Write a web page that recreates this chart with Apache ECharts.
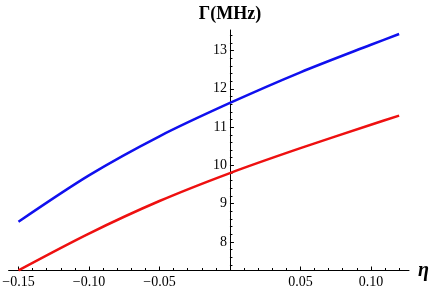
<!DOCTYPE html>
<html><head><meta charset="utf-8">
<script src="https://cdn.jsdelivr.net/npm/echarts@6/dist/echarts.min.js"></script>
<style>html,body{margin:0;padding:0;background:#fff}#c{width:432px;height:292px}</style>
</head><body><div id="c"></div>
<script>
const eta = [-0.15, -0.10, -0.05, 0, 0.05, 0.10, 0.12];
const gammaBlue = [8.53, 9.74, 10.76, 11.63, 12.43, 13.15, 13.43];
const gammaRed = [7.26, 8.22, 9.07, 9.80, 10.45, 11.06, 11.30];
const xMajorTicks = [-0.15, -0.10, -0.05, 0, 0.05, 0.10];
const xTickLabels = [-0.15, -0.10, -0.05, 0.05, 0.10];
const yTickLabels = [8, 9, 10, 11, 12, 13];

const xMinor = []; for (let i = -15; i <= 12; i++) if (i % 5 !== 0) xMinor.push(i / 100);
const yMinor = []; for (let i = 37; i <= 67; i++) if (i % 5 !== 0) yMinor.push(i / 5);

const font = 'Liberation Serif';
const xMin = -0.157, xMax = 0.127, yMin = 7.256, yMax = 13.535;
const gridLeft = 8.6, gridRight = 23;
const plotW = 432 - gridLeft - gridRight;
// y axis sits at eta = 0: shift it inward from the grid's left edge
const yOffset = -((0 - xMin) / (xMax - xMin)) * plotW;

const chart = echarts.init(document.getElementById('c'), null, {renderer: 'canvas'});
chart.setOption({
  animation: false,
  grid: {left: gridLeft, right: gridRight, top: 30, bottom: 21.5, containLabel: false, outerBoundsMode: 'none'},
  xAxis: [{
    type: 'value', min: xMin, max: xMax, position: 'bottom',
    axisLine: {onZero: false, lineStyle: {color: '#000', width: 1}},
    axisTick: {show: true, inside: true, length: 4, customValues: xMajorTicks, lineStyle: {color: '#000'}},
    axisLabel: {customValues: xTickLabels, margin: 5, color: '#000', fontFamily: font, fontSize: 14,
      formatter: v => v.toFixed(2).replace('-', '\u2212')},
    splitLine: {show: false},
    name: '\u03b7', nameLocation: 'end', nameGap: 9,
    nameTextStyle: {fontFamily: font, fontSize: 20, fontWeight: 'bold', fontStyle: 'italic', color: '#000', align: 'left', verticalAlign: 'middle', padding: [4, 0, 0, 0]}
  }, {
    type: 'value', min: xMin, max: xMax, position: 'bottom',
    axisLine: {show: false, onZero: false},
    axisTick: {show: true, inside: true, length: 2.5, customValues: xMinor, lineStyle: {color: '#000'}},
    axisLabel: {show: false}, splitLine: {show: false}
  }],
  yAxis: [{
    type: 'value', min: yMin, max: yMax, position: 'left', offset: yOffset,
    axisLine: {show: true, onZero: false, lineStyle: {color: '#000', width: 1}},
    axisTick: {show: true, inside: true, length: 4, customValues: yTickLabels, lineStyle: {color: '#000'}},
    axisLabel: {customValues: yTickLabels, margin: 3, color: '#000', fontFamily: font, fontSize: 14},
    splitLine: {show: false},
    name: '\u0393(MHz)', nameLocation: 'end', nameGap: 16,
    nameTextStyle: {fontFamily: font, fontSize: 18, fontWeight: 'bold', color: '#000', align: 'center', verticalAlign: 'middle'}
  }, {
    type: 'value', min: yMin, max: yMax, position: 'left', offset: yOffset,
    axisLine: {show: false, onZero: false},
    axisTick: {show: true, inside: true, length: 2.5, customValues: yMinor, lineStyle: {color: '#000'}},
    axisLabel: {show: false}, splitLine: {show: false}
  }],
  series: [{
    type: 'line', xAxisIndex: 0, yAxisIndex: 0, smooth: 0.3, showSymbol: false,
    lineStyle: {color: '#1010ee', width: 2.5}, itemStyle: {color: '#1010ee'},
    data: eta.map((x, i) => [x, gammaBlue[i]])
  }, {
    type: 'line', xAxisIndex: 0, yAxisIndex: 0, smooth: 0.3, showSymbol: false,
    lineStyle: {color: '#ee1010', width: 2.5}, itemStyle: {color: '#ee1010'},
    data: eta.map((x, i) => [x, gammaRed[i]])
  }]
});
</script></body></html>
